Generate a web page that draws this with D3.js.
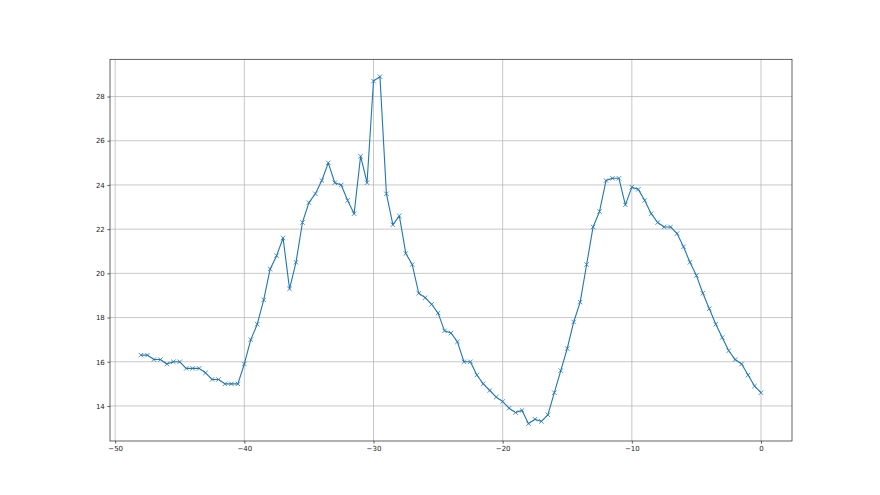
<!DOCTYPE html>
<html><head><meta charset="utf-8">
<script src="https://cdn.jsdelivr.net/npm/d3@7"></script>
<style>body{margin:0;background:#fff}svg{display:block}text{font-family:"DejaVu Sans",sans-serif}</style>
</head><body>
<script>
const xValues = [-48,-47.5,-47,-46.5,-46,-45.5,-45,-44.5,-44,-43.5,-43,-42.5,-42,-41.5,-41,-40.5,-40,-39.5,-39,-38.5,-38,-37.5,-37,-36.5,-36,-35.5,-35,-34.5,-34,-33.5,-33,-32.5,-32,-31.5,-31,-30.5,-30,-29.5,-29,-28.5,-28,-27.5,-27,-26.5,-26,-25.5,-25,-24.5,-24,-23.5,-23,-22.5,-22,-21.5,-21,-20.5,-20,-19.5,-19,-18.5,-18,-17.5,-17,-16.5,-16,-15.5,-15,-14.5,-14,-13.5,-13,-12.5,-12,-11.5,-11,-10.5,-10,-9.5,-9,-8.5,-8,-7.5,-7,-6.5,-6,-5.5,-5,-4.5,-4,-3.5,-3,-2.5,-2,-1.5,-1,-0.5,0];
const yValues = [16.3,16.3,16.1,16.1,15.9,16.0,16.0,15.7,15.7,15.7,15.5,15.2,15.2,15.0,15.0,15.0,15.9,17.0,17.7,18.8,20.2,20.8,21.6,19.3,20.5,22.3,23.2,23.6,24.2,25.0,24.1,24.0,23.3,22.7,25.3,24.1,28.7,28.9,23.6,22.2,22.6,20.9,20.4,19.1,18.9,18.6,18.2,17.4,17.3,16.9,16.0,16.0,15.4,15.0,14.7,14.4,14.2,13.9,13.7,13.8,13.2,13.4,13.3,13.6,14.6,15.6,16.6,17.8,18.7,20.4,22.1,22.8,24.2,24.3,24.3,23.1,23.9,23.8,23.3,22.7,22.3,22.1,22.1,21.8,21.2,20.5,19.9,19.1,18.4,17.7,17.1,16.5,16.1,15.9,15.4,14.9,14.6];
const xTicks = [-50,-40,-30,-20,-10,0];
const yTicks = [14,16,18,20,22,24,26,28];

const W = 880, H = 495;
const m = {left:110, right:88, top:59.3, bottom:54};
const svg = d3.select("body").append("svg").attr("width",W).attr("height",H);
const xMin = d3.min(xValues), xMax = d3.max(xValues), yMin = d3.min(yValues), yMax = d3.max(yValues);
const xPad = (xMax-xMin)*0.05, yPad = (yMax-yMin)*0.05;
const x = d3.scaleLinear().domain([xMin-xPad, xMax+xPad]).range([m.left, W-m.right]);
const y = d3.scaleLinear().domain([yMin-yPad, yMax+yPad]).range([H-m.bottom, m.top]);
const fmt = d => d < 0 ? "\u2212" + Math.abs(d) : String(d);

// grid
const g = svg.append("g");
g.selectAll("line.gx").data(xTicks).join("line")
  .attr("x1", d=>x(d)).attr("x2", d=>x(d)).attr("y1", m.top).attr("y2", H-m.bottom)
  .attr("stroke","#b0b0b0").attr("stroke-width",0.7);
g.selectAll("line.gy").data(yTicks).join("line")
  .attr("y1", d=>y(d)).attr("y2", d=>y(d)).attr("x1", m.left).attr("x2", W-m.right)
  .attr("stroke","#b0b0b0").attr("stroke-width",0.7);

// axes
const xAxis = d3.axisBottom(x).tickValues(xTicks).tickFormat(fmt).tickSize(2.7).tickPadding(2.5);
const yAxis = d3.axisLeft(y).tickValues(yTicks).tickFormat(fmt).tickSize(2.7).tickPadding(2.5);
const ax = svg.append("g").attr("transform",`translate(0,${H-m.bottom})`).call(xAxis);
const ay = svg.append("g").attr("transform",`translate(${m.left},0)`).call(yAxis);
[ax, ay].forEach(a => {
  a.select(".domain").remove();
  a.selectAll(".tick line").attr("stroke","#222").attr("stroke-width",0.7);
  a.selectAll(".tick text").attr("fill","#222").style("font-size","7px").style("font-family","'DejaVu Sans', sans-serif");
});

// line
svg.append("path").datum(xValues.map((d,i)=>[d,yValues[i]]))
  .attr("fill","none").attr("stroke","#1f77b4").attr("stroke-width",1.1)
  .attr("stroke-linejoin","round")
  .attr("d", d3.line().x(d=>x(d[0])).y(d=>y(d[1])));

// markers
const s = 2.2;
svg.append("g").selectAll("path").data(xValues.map((d,i)=>[d,yValues[i]])).join("path")
  .attr("d", d => { const cx=x(d[0]), cy=y(d[1]); return `M${cx-s},${cy-s}L${cx+s},${cy+s}M${cx-s},${cy+s}L${cx+s},${cy-s}`; })
  .attr("stroke","#1f77b4").attr("stroke-width",0.8).attr("fill","none");

// spines
svg.append("rect").attr("x",m.left).attr("y",m.top).attr("width",W-m.right-m.left).attr("height",H-m.bottom-m.top)
  .attr("fill","none").attr("stroke","#222").attr("stroke-width",0.7);
</script>
</body></html>
